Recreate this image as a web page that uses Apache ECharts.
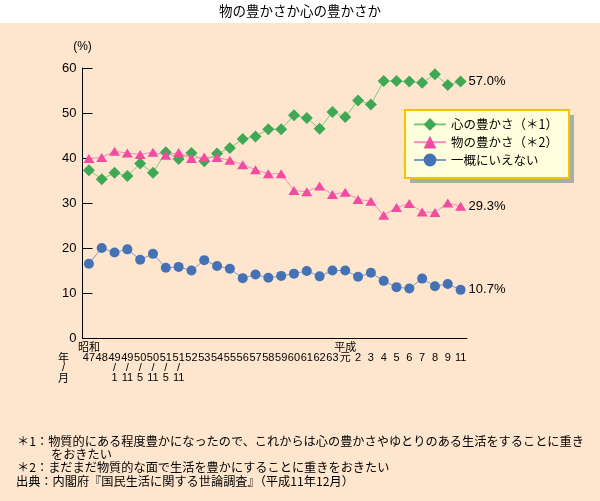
<!DOCTYPE html>
<html><head><meta charset="utf-8">
<script src="https://cdn.jsdelivr.net/npm/echarts@6/dist/echarts.min.js"></script>
<style>html,body{margin:0;padding:0;background:#FDE5CE}#c{width:600px;height:501px}</style>
</head><body><div id="c"></div>
<script>
const categories = ['昭和47','48','49/1','49/11','50/5','50/11','51/5','51/11','52','53','54','55','56','57','58','59','60','61','62','63','平成元','2','3','4','5','6','7','8','9','11'];
const eraLabels = ['昭和','','','','','','','','','','','','','','','','','','','','平成','','','','','','','','',''];
const yearLabels = ['47','48','49','49','50','50','51','51','52','53','54','55','56','57','58','59','60','61','62','63','元','2','3','4','5','6','7','8','9','11'];
const monthLabels = ['','','1','11','5','11','5','11','','','','','','','','','','','','','','','','','','','','','',''];
const kokoro = [37.3,35.3,36.7,36.0,38.8,36.7,41.3,39.8,41.1,39.3,41.0,42.2,44.2,44.8,46.4,46.4,49.5,48.9,46.5,50.2,49.1,52.8,51.9,57.1,57.1,57.0,56.7,58.6,56.2,57.0];
const mono = [39.9,40.1,41.5,41.1,40.8,41.3,40.6,41.2,39.9,40.2,40.1,39.5,38.5,37.4,36.5,36.5,32.8,32.5,33.8,31.9,32.4,30.8,30.4,27.3,29.0,29.9,28.0,27.9,30.0,29.3];
const ichigai = [16.5,20.0,19.0,19.7,17.4,18.7,15.6,15.8,15.0,17.3,16.0,15.4,13.3,14.1,13.4,13.8,14.3,14.9,13.7,15.0,15.0,13.6,14.5,12.7,11.3,11.0,13.2,11.5,12.0,10.7];
const seriesNames = ['心の豊かさ（＊1）','物の豊かさ（＊2）','一概にいえない'];
const yTicks = [0,10,20,30,40,50,60];

const LAT = '"Liberation Sans", "Noto Sans CJK JP", sans-serif';
const CJK = '"Noto Sans CJK JP", "Liberation Sans", sans-serif';

const chart = echarts.init(document.getElementById('c'), null, {renderer:'canvas'});
const endLabel = {show:true, distance:8, fontFamily:LAT, fontSize:13, color:'#000',
  formatter: p => p.value.toFixed(1) + '%'};
chart.setOption({
  animation:false,
  backgroundColor:'#FDE5CE',
  grid:{left:82.5, right:133, top:68, bottom:163},
  legend:{
    orient:'vertical', left:413, top:118, padding:0, itemGap:5,
    itemWidth:32, itemHeight:16,
    textStyle:{fontFamily:CJK, fontSize:12.5, color:'#000'},
    data:seriesNames
  },
  xAxis:{
    type:'category', data:categories, boundaryGap:true,
    axisLine:{lineStyle:{color:'#000', width:1}},
    axisTick:{inside:true, length:6, interval:0, lineStyle:{color:'#000'}},
    axisLabel:{
      interval:0, margin:5, color:'#000', fontFamily:LAT, fontSize:11, lineHeight:10,
      formatter:(v, i) => [eraLabels[i] || ' ', yearLabels[i], monthLabels[i] ? '/' : ' ', monthLabels[i] || ' '].join('\n')
    },
    splitLine:{show:false}
  },
  yAxis:{
    type:'value', min:0, max:60, interval:10,
    name:'(%)', nameLocation:'end', nameGap:15,
    nameTextStyle:{fontFamily:LAT, fontSize:12, color:'#000'},
    axisLine:{show:true, lineStyle:{color:'#000', width:1}},
    axisTick:{show:true, inside:true, length:10, lineStyle:{color:'#000'}},
    axisLabel:{margin:6, color:'#000', fontFamily:LAT, fontSize:13,
      formatter: v => yTicks.includes(v) ? String(v) : ''},
    splitLine:{show:false}
  },
  series:[
    {name:seriesNames[0], type:'line', data:kokoro, symbol:'diamond', symbolSize:12,
     lineStyle:{color:'#7FC97F', width:1}, itemStyle:{color:'#3FA854'}, endLabel},
    {name:seriesNames[1], type:'line', data:mono, symbol:'triangle', symbolSize:[11,9],
     lineStyle:{color:'#F58CBE', width:1}, itemStyle:{color:'#F24BA0'}, endLabel},
    {name:seriesNames[2], type:'line', data:ichigai, symbol:'circle', symbolSize:10,
     lineStyle:{color:'#7B9BD0', width:1}, itemStyle:{color:'#4472B4'}, endLabel}
  ],
  graphic:[
    {type:'rect', z:0, shape:{x:0, y:0, width:600, height:23}, style:{fill:'#fff'}},
    {type:'text', z:1, left:'center', top:4, style:{text:'物の豊かさか心の豊かさか', font:'13.5px "Noto Sans CJK JP"', fill:'#000'}},
    {type:'rect', z:1, shape:{x:410, y:115, width:164, height:68}, style:{fill:'#AAAFA6'}},
    {type:'rect', z:2, shape:{x:405, y:110, width:164, height:68}, style:{fill:'#FFFFDD', stroke:'#F5C400', lineWidth:2}},
    {type:'text', z:3, x:63.5, y:357.5, style:{text:'年', font:'11px "Noto Sans CJK JP"', fill:'#000', align:'center', verticalAlign:'middle'}},
    {type:'text', z:3, x:63.5, y:367.5, style:{text:'/', font:'11px "Liberation Sans"', fill:'#000', align:'center', verticalAlign:'middle'}},
    {type:'text', z:3, x:63.5, y:377.5, style:{text:'月', font:'11px "Noto Sans CJK JP"', fill:'#000', align:'center', verticalAlign:'middle'}},
    {type:'text', z:3, x:17, y:441, style:{text:'＊1：物質的にある程度豊かになったので、これからは心の豊かさやゆとりのある生活をすることに重き', font:'12.2px "Noto Sans CJK JP"', fill:'#000', verticalAlign:'middle'}},
    {type:'text', z:3, x:51, y:454, style:{text:'をおきたい', font:'12.2px "Noto Sans CJK JP"', fill:'#000', verticalAlign:'middle'}},
    {type:'text', z:3, x:17, y:467.5, style:{text:'＊2：まだまだ物質的な面で生活を豊かにすることに重きをおきたい', font:'12.2px "Noto Sans CJK JP"', fill:'#000', verticalAlign:'middle'}},
    {type:'text', z:3, x:16, y:481, style:{text:'出典：内閣府『国民生活に関する世論調査』（平成11年12月）', font:'12.2px "Noto Sans CJK JP"', fill:'#000', verticalAlign:'middle'}}
  ]
});
</script></body></html>
